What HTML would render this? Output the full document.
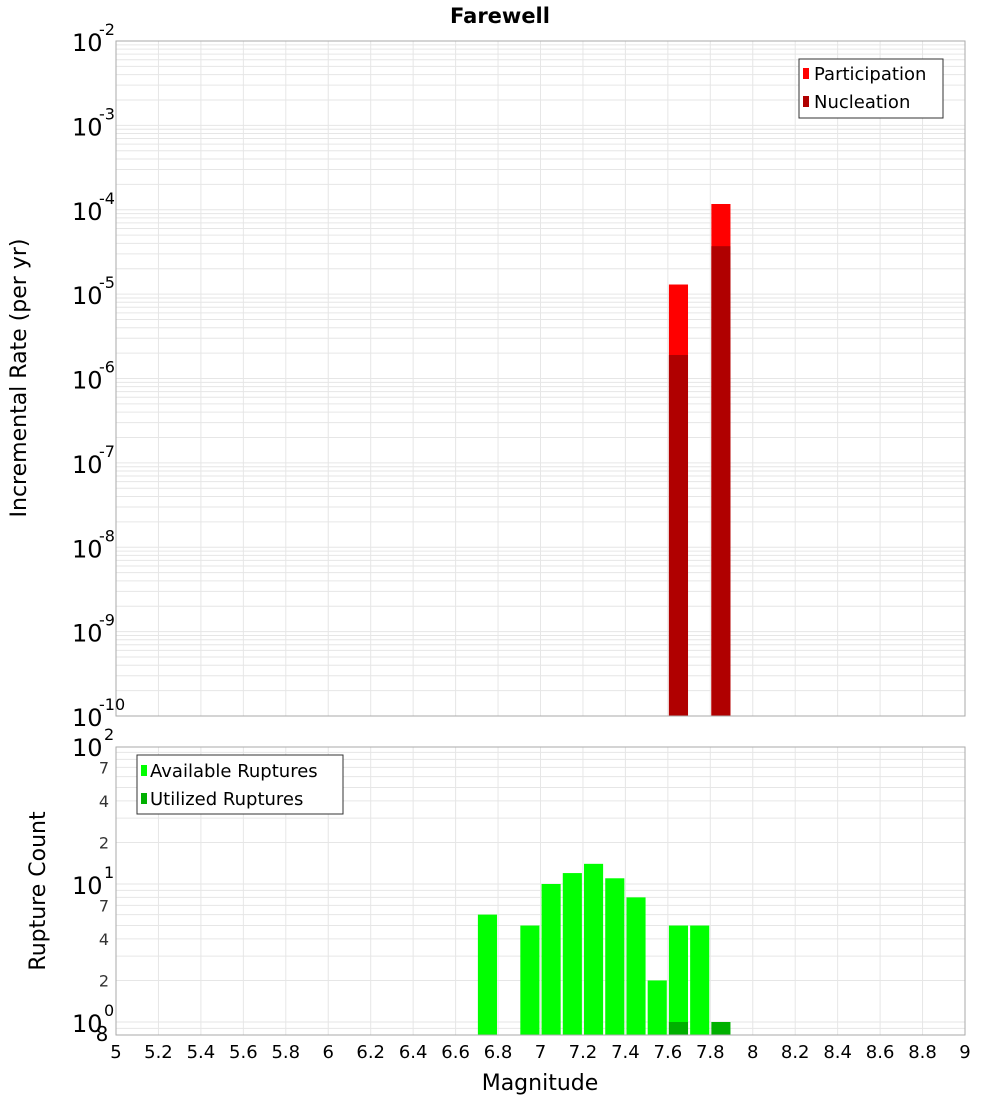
<!DOCTYPE html>
<html><head><meta charset="utf-8"><style>
body{margin:0;background:#fff;font-family:"DejaVu Sans","Liberation Sans",sans-serif}
svg{display:block}
</style></head><body>
<svg id="c" width="1000" height="1100" xmlns="http://www.w3.org/2000/svg">
<text x="500" y="23" text-anchor="middle" font-size="21" font-weight="bold">Farewell</text>
</svg>
<script>
const topMags=[7.65,7.85];
const participation=[1.3e-5,1.17e-4];
const nucleation=[1.9e-6,3.7e-5];
const availMags=[6.75,6.95,7.05,7.15,7.25,7.35,7.45,7.55,7.65,7.75];
const available=[6,5,10,12,14,11,8,2,5,5];
const utilMags=[7.65,7.85];
const utilized=[1,1];
const xTicks=["5","5.2","5.4","5.6","5.8","6","6.2","6.4","6.6","6.8","7","7.2","7.4","7.6","7.8","8","8.2","8.4","8.6","8.8","9"];
const topExps=[-10,-9,-8,-7,-6,-5,-4,-3,-2];
const botMinor=[2,4,7];

const NS="http://www.w3.org/2000/svg";
const svg=document.getElementById('c');
const L=116,R=965;
const T1=41,B1=716,T2=747,B2=1035;
const x=m=>L+(m-5)/4*(R-L);
const y1=v=>B1-(Math.log10(v)+10)/8*(B1-T1);
const y2=v=>1022-Math.log10(v)*138;
function el(tag,attrs,parent){const e=document.createElementNS(NS,tag);for(const k in attrs)e.setAttribute(k,attrs[k]);(parent||svg).appendChild(e);return e;}
function txt(s,attrs){const e=el('text',attrs);e.textContent=s;return e;}

// plot backgrounds
const bg1=el('rect',{x:L,y:T1,width:R-L,height:B1-T1,fill:'#fff'});


const bg2=el('rect',{x:L,y:T2,width:R-L,height:B2-T2,fill:'#fff'});



// grids
const g=el('g',{stroke:'#e6e6e6','stroke-width':1});


xTicks.forEach(t=>{const xx=x(+t);el('line',{x1:xx,x2:xx,y1:T1,y2:B1},g);el('line',{x1:xx,x2:xx,y1:T2,y2:B2},g);});
for(let e=-10;e<-2;e++){for(let k=1;k<10;k++){const yy=y1(k*Math.pow(10,e));el('line',{x1:L,x2:R,y1:yy,y2:yy},g);}}
for(let e=-1;e<2;e++){for(let k=1;k<10;k++){const yy=y2(k*Math.pow(10,e));if(yy>=T2&&yy<=B2)el('line',{x1:L,x2:R,y1:yy,y2:yy},g);}}

// top bars
const bw=0.09;
topMags.forEach((m,i)=>{
 const r=el('rect',{x:x(m-bw/2),y:y1(participation[i]),width:x(m+bw/2)-x(m-bw/2),height:B1-y1(participation[i]),fill:'#ff0000'});
 
 
 const n=el('rect',{x:x(m-bw/2),y:y1(nucleation[i]),width:x(m+bw/2)-x(m-bw/2),height:B1-y1(nucleation[i]),fill:'#b00000'});
 
 
});
// bottom bars
availMags.forEach((m,i)=>{
 const r=el('rect',{x:x(m-bw/2),y:y2(available[i]),width:x(m+bw/2)-x(m-bw/2),height:B2-y2(available[i]),fill:'#00ff00'});
 
 
});
utilMags.forEach((m,i)=>{
 const r=el('rect',{x:x(m-bw/2),y:y2(utilized[i]),width:x(m+bw/2)-x(m-bw/2),height:B2-y2(utilized[i]),fill:'#00b000'});
 
 
});

// frames
el('rect',{x:L,y:T1,width:R-L,height:B1-T1,fill:'none',stroke:'#aaa'});
el('rect',{x:L,y:T2,width:R-L,height:B2-T2,fill:'none',stroke:'#aaa'});

// top y labels
topExps.forEach(e=>{
 const yy=y1(Math.pow(10,e));
 const t=txt('10',{x:72,y:yy+10,'font-size':24});
 
 
 txt(String(e),{x:99,y:yy-6,'font-size':16});
});
// bottom y labels
[0,1,2].forEach(e=>{
 const yy=y2(Math.pow(10,e));
 const t=txt('10',{x:72,y:yy+10,'font-size':24});
 
 
 txt(String(e),{x:104,y:yy-6,'font-size':16});
});
[0,1].forEach(e=>botMinor.forEach(k=>{
 const yy=y2(k*Math.pow(10,e));
 const t=txt(String(k),{x:104,y:yy+6,'font-size':16,'text-anchor':'middle',fill:'#333'});
 
 
}));
txt('8',{x:102,y:1041,'font-size':20,'text-anchor':'middle'});

// x labels
xTicks.forEach(t=>{
 const e=txt(t,{x:x(+t),y:1058,'font-size':18,'text-anchor':'middle'});
 
 
});
const xt=txt('Magnitude',{x:540,y:1090,'font-size':22,'text-anchor':'middle'});


const yt1=txt('Incremental Rate (per yr)',{x:0,y:0,'font-size':22,'text-anchor':'middle',transform:'translate(26,378) rotate(-90)'});


const yt2=txt('Rupture Count',{x:0,y:0,'font-size':22,'text-anchor':'middle',transform:'translate(45,891) rotate(-90)'});



// legends
const lg1=el('g',{});


el('rect',{x:799,y:59,width:144,height:59,fill:'#fff',stroke:'#333'},lg1);
el('rect',{x:803,y:68,width:6,height:11,fill:'#ff0000'},lg1);
el('rect',{x:803,y:96,width:6,height:11,fill:'#b00000'},lg1);
const a=txt('Participation',{x:814,y:80,'font-size':18});lg1.appendChild(a);
const b=txt('Nucleation',{x:814,y:108,'font-size':18});lg1.appendChild(b);
const lg2=el('g',{});


el('rect',{x:137,y:755,width:206,height:59,fill:'#fff',stroke:'#333'},lg2);
el('rect',{x:141,y:765,width:6,height:11,fill:'#00ff00'},lg2);
el('rect',{x:141,y:793,width:6,height:11,fill:'#00b000'},lg2);
const c=txt('Available Ruptures',{x:150,y:777,'font-size':18});lg2.appendChild(c);
const d=txt('Utilized Ruptures',{x:150,y:805,'font-size':18});lg2.appendChild(d);
</script>
</body></html>
